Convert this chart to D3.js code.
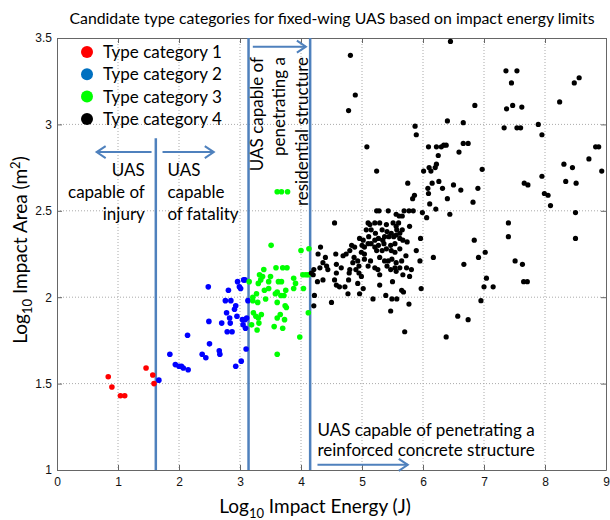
<!DOCTYPE html>
<html>
<head>
<meta charset="utf-8">
<script src="https://cdn.jsdelivr.net/npm/d3@7"></script>
<style>
  body { margin: 0; background: #fff; }
</style>
</head>
<body>
<div id="chart"></div>
<script>
'use strict';

// log10 impact energy (J), log10 impact area (m^2)
var type1 = [[0.84,1.54],[0.90,1.48],[1.04,1.43],[1.11,1.43],[1.46,1.59],[1.57,1.55],[1.59,1.50]];

var type2 = [[2.48,2.06],[2.81,2.04],[2.96,2.09],[2.99,2.06],[3.01,2.05],[3.06,2.10],[3.08,2.10],[2.76,1.98],
  [2.85,1.98],[3.13,1.98],[2.93,1.95],[2.91,1.93],[2.78,1.91],[2.95,1.89],[2.83,1.88],[2.49,1.86],[2.70,1.85],
  [2.84,1.85],[3.04,1.87],[3.08,1.87],[3.11,1.88],[3.05,1.84],[3.09,1.82],[2.79,1.80],[2.87,1.80],[2.14,1.78],
  [2.50,1.73],[3.10,1.70],[2.66,1.69],[2.67,1.67],[2.38,1.67],[2.44,1.65],[1.85,1.67],[3.02,1.63],[1.94,1.61],
  [2.00,1.60],[2.04,1.60],[2.07,1.59],[2.15,1.58],[2.93,1.60],[1.67,1.52]];

var type3 = [[3.61,2.61],[3.68,2.61],[3.78,2.61],[3.51,2.30],[4.00,2.27],[4.13,2.28],[3.39,2.16],[3.32,2.13],
  [3.37,2.12],[3.15,2.09],[3.30,2.08],[3.47,2.09],[3.50,2.12],[3.59,2.17],[3.70,2.17],[3.77,2.17],[3.63,2.09],
  [3.68,2.09],[3.88,2.11],[3.91,2.08],[3.75,2.04],[4.03,2.13],[4.08,2.13],[4.12,2.13],[4.04,2.05],[3.27,2.02],
  [3.40,2.04],[3.47,2.05],[3.58,2.02],[3.61,2.03],[3.67,2.01],[3.72,2.01],[3.21,2.00],[3.21,1.98],[3.29,1.97],
  [3.42,1.99],[3.61,1.97],[3.74,1.95],[3.76,1.94],[3.22,1.91],[3.26,1.89],[3.30,1.88],[3.35,1.90],[3.66,1.90],
  [3.61,1.88],[3.73,1.87],[3.31,1.85],[3.19,1.84],[3.28,1.81],[3.56,1.83],[3.70,1.82],[3.98,1.77],[4.12,1.91],
  [3.61,1.67],[3.88,2.05],[3.34,2.10]];

var type4 = [[6.45,3.48],[4.81,3.40],[4.89,3.17],[4.78,3.08],[7.36,3.31],[7.54,3.31],[7.45,3.24],[6.85,3.11],
  [7.37,3.09],[7.47,3.11],[7.62,3.10],[6.40,3.02],[6.66,3.01],[5.87,2.99],[5.89,2.94],[7.33,2.98],[7.54,2.98],
  [7.60,2.98],[7.89,3.00],[7.95,2.94],[8.24,3.13],[8.48,3.24],[8.56,3.27],
  [8.83,2.87],[8.88,2.87],[8.72,2.80],[8.31,2.77],[8.45,2.75],[8.93,2.73],[8.34,2.67],[8.51,2.66],[8.50,2.49],
  [8.50,2.34],[7.66,2.66],[7.72,2.65],[7.95,2.70],[7.99,2.60],[8.05,2.59],[8.09,2.53],[6.97,2.74],[6.90,2.63],
  [6.82,2.55],[6.62,2.62],[6.50,2.65],[6.40,2.57],[6.44,2.48],[6.32,2.63],[6.26,2.67],[6.15,2.66],[6.08,2.63],
  [6.09,2.60],[6.11,2.54],[6.21,2.51],[5.99,2.49],[6.06,2.46],[6.59,2.84],[6.09,2.87],[6.22,2.87],[6.30,2.87],
  [6.34,2.88],[6.38,2.88],[6.66,2.89],[6.74,2.89],[6.25,2.82],[6.22,2.77],[6.10,2.75],[6.20,2.75],[6.01,2.73],
  [6.13,2.73],[5.08,2.87],[5.24,2.73],[5.75,2.66],[5.83,2.57],[5.86,2.59],[4.55,2.43],
  [7.40,2.43],[7.40,2.35],[6.84,2.33],[7.02,2.26],[6.91,2.23],[6.67,2.19],[6.17,2.23],[7.51,2.21],[7.63,2.19],
  [7.04,2.11],[7.00,2.06],[7.15,2.06],[7.65,2.09],[7.71,2.09],[6.95,1.98],[6.57,1.89],[6.74,1.87],[6.38,1.77],
  [5.96,2.34],[5.95,2.21],[5.97,2.05],[5.89,2.27],[5.65,2.04],[5.68,2.03],[5.39,2.01],[5.49,1.99],[5.57,1.99],
  [5.47,1.92],[5.77,1.96],[5.70,1.80],
  [5.24,2.50],[5.28,2.50],[5.43,2.50],[5.69,2.50],[5.77,2.50],[5.84,2.50],[5.56,2.48],[5.61,2.47],[5.66,2.47],
  [5.10,2.43],[5.13,2.42],[5.21,2.43],[5.29,2.43],[5.40,2.42],[5.51,2.43],[5.56,2.41],[5.60,2.43],
  [5.07,2.39],[5.15,2.39],[5.22,2.37],[5.33,2.39],[5.41,2.38],[5.48,2.37],[5.57,2.39],[5.62,2.37],[5.66,2.39],
  [5.78,2.41],[4.96,2.34],[5.02,2.33],[5.11,2.35],[5.21,2.33],[5.27,2.34],[5.34,2.33],[5.37,2.35],[5.44,2.35],
  [5.52,2.35],[5.56,2.36],[5.62,2.34],[5.67,2.33],
  [4.83,2.30],[4.88,2.29],[5.00,2.30],[5.04,2.29],[5.10,2.31],[5.15,2.31],[5.21,2.29],[5.27,2.30],[5.36,2.31],
  [5.47,2.30],[5.54,2.31],[5.74,2.32],[5.62,2.28],
  [4.32,2.29],[4.28,2.25],[4.80,2.27],[4.74,2.25],[4.99,2.26],[5.04,2.25],[5.24,2.27],[5.33,2.27],[5.40,2.28],
  [5.48,2.27],[5.54,2.26],[5.72,2.24],
  [4.40,2.23],[4.36,2.20],[4.42,2.18],[4.57,2.25],[4.69,2.24],[4.87,2.23],[4.93,2.21],[4.85,2.20],[5.04,2.22],
  [5.14,2.21],[5.29,2.23],[5.37,2.21],[5.43,2.21],[5.49,2.22],[5.56,2.20],[5.65,2.21],
  [4.31,2.17],[4.44,2.16],[4.21,2.16],[4.17,2.14],[4.20,2.13],[4.58,2.19],[4.66,2.17],[4.80,2.16],[4.90,2.16],
  [4.95,2.18],[5.10,2.18],[5.21,2.17],[5.26,2.16],[5.41,2.18],[5.47,2.16],[5.54,2.17],[5.62,2.17],[5.73,2.17],
  [5.81,2.16],[4.58,2.14],[4.79,2.14],[4.95,2.14],[5.29,2.13],[5.56,2.15],[5.67,2.13],[5.78,2.12],
  [4.27,2.09],[4.36,2.10],[4.55,2.10],[4.78,2.10],[4.99,2.12],[5.50,2.09],
  [4.58,2.07],[4.63,2.06],[4.72,2.06],[4.93,2.08],[5.02,2.05],[5.29,2.07],
  [4.22,2.01],[4.77,2.02],[4.96,2.02],[5.18,1.99],[4.21,1.95],[4.50,1.97]];

var categories = ['Type category 1', 'Type category 2', 'Type category 3', 'Type category 4'];
var xTicks = [0, 1, 2, 3, 4, 5, 6, 7, 8, 9];
var yTicks = [1, 1.5, 2, 2.5, 3, 3.5];

// energy limits (log10 J) and where each limit line starts (log10 m^2)
var limits = [1.62, 3.14, 4.15];
var limitTops = [2.92, 3.5, 3.5];

var margin = {top: 38, right: 4, bottom: 50, left: 57},
    width = 610 - margin.left - margin.right,
    height = 520 - margin.top - margin.bottom;

var x = d3.scaleLinear().domain([0, 9]).range([0, width]);
var y = d3.scaleLinear().domain([1, 3.5]).range([height, 0]);

var lineBlue = '#4f81bd';
var calibri = 'Lato, "Open Sans", sans-serif';

var svg = d3.select('#chart')
    .append('svg')
    .attr('width', 610)
    .attr('height', 520);

var vis = svg.append('g')
    .attr('transform', 'translate(' + margin.left + ',' + margin.top + ')');

// dotted grid
vis.append('g').selectAll('line.gx')
    .data(xTicks.slice(1, -1))
    .enter().append('line')
    .attr('x1', function(d) { return x(d); })
    .attr('x2', function(d) { return x(d); })
    .attr('y1', 0).attr('y2', height)
    .attr('stroke', '#aaa').attr('stroke-dasharray', '1,2');
vis.append('g').selectAll('line.gy')
    .data(yTicks.slice(1, -1))
    .enter().append('line')
    .attr('y1', function(d) { return y(d); })
    .attr('y2', function(d) { return y(d); })
    .attr('x1', 0).attr('x2', width)
    .attr('stroke', '#aaa').attr('stroke-dasharray', '1,2');

// axes, ticks pointing inwards on all four sides
function styleAxis(g) {
    g.select('.domain').attr('stroke', '#666');
    g.selectAll('.tick line').attr('stroke', '#666');
    g.selectAll('.tick text')
        .attr('fill', '#111')
        .style('font-family', '"Liberation Sans", Arial, sans-serif')
        .style('font-size', '12px');
}
var fmt = d3.format('~g');
vis.append('g')
    .attr('transform', 'translate(0,' + height + ')')
    .call(d3.axisBottom(x).tickValues(xTicks).tickFormat(fmt).tickSize(-5).tickSizeOuter(0).tickPadding(7))
    .call(styleAxis);
vis.append('g')
    .call(d3.axisLeft(y).tickValues(yTicks).tickFormat(fmt).tickSize(-5).tickSizeOuter(0).tickPadding(5))
    .call(styleAxis);
vis.append('g')
    .call(d3.axisTop(x).tickValues(xTicks).tickSize(-5).tickSizeOuter(0).tickFormat(''))
    .call(styleAxis);
vis.append('g')
    .attr('transform', 'translate(' + width + ',0)')
    .call(d3.axisRight(y).tickValues(yTicks).tickSize(-5).tickSizeOuter(0).tickFormat(''))
    .call(styleAxis);

// energy limit lines
vis.append('g').selectAll('line')
    .data(limits)
    .enter().append('line')
    .attr('x1', function(d) { return x(d); })
    .attr('x2', function(d) { return x(d); })
    .attr('y1', function(d, i) { return y(limitTops[i]); })
    .attr('y2', height)
    .attr('stroke', lineBlue)
    .attr('stroke-width', 2.5);

// data points
var series = [
    {pts: type2, color: '#0000ff', r: 2.8},
    {pts: type3, color: '#00ff00', r: 2.8},
    {pts: type4, color: '#000000', r: 2.6},
    {pts: type1, color: '#ff0000', r: 2.8}
];
series.forEach(function(s) {
    vis.append('g').selectAll('circle')
        .data(s.pts)
        .enter().append('circle')
        .attr('cx', function(d) { return x(d[0]); })
        .attr('cy', function(d) { return y(d[1]); })
        .attr('r', s.r)
        .attr('fill', s.color);
});

// arrows (data units)
var arrows = [
    {x1: 1.55, x2: 0.65, y: 2.84},
    {x1: 1.73, x2: 2.57, y: 2.84},
    {x1: 3.21, x2: 4.08, y: 3.45},
    {x1: 4.27, x2: 5.75, y: 1.03}
];
arrows.forEach(function(a) {
    var px1 = x(a.x1), px2 = x(a.x2), py = y(a.y);
    var dir = px2 > px1 ? 1 : -1;
    vis.append('line')
        .attr('x1', px1).attr('x2', px2)
        .attr('y1', py).attr('y2', py)
        .attr('stroke', lineBlue).attr('stroke-width', 2);
    vis.append('path')
        .attr('d', 'M' + (px2 - dir * 9) + ',' + (py - 6) + 'L' + px2 + ',' + py + 'L' + (px2 - dir * 9) + ',' + (py + 6))
        .attr('fill', 'none')
        .attr('stroke', lineBlue)
        .attr('stroke-width', 2);
});

// annotation text
function multiline(g, lines, lh) {
    g.selectAll('tspan')
        .data(lines)
        .enter().append('tspan')
        .attr('x', 0)
        .attr('dy', function(d, i) { return i === 0 ? 0 : lh; })
        .text(function(d) { return d; });
}
var note = function(xv, yv, anchor) {
    return vis.append('text')
        .attr('transform', 'translate(' + x(xv) + ',' + y(yv) + ')')
        .attr('text-anchor', anchor)
        .style('font-family', calibri)
        .style('font-size', '17px')
        .attr('fill', '#000');
};
multiline(note(1.44, 2.70, 'end'), ['UAS', 'capable of', 'injury'], 22);
multiline(note(1.81, 2.70, 'start'), ['UAS', 'capable', 'of fatality'], 22);
multiline(note(4.27, 1.195, 'start'), ['UAS capable of penetrating a', 'reinforced concrete structure'], 20);

var rot = vis.append('text')
    .attr('transform', 'translate(' + x(3.37) + ',' + y(3.39) + ') rotate(-90)')
    .attr('text-anchor', 'end')
    .style('font-family', calibri)
    .style('font-size', '17px');
rot.selectAll('tspan')
    .data(['UAS capable of', 'penetrating a', 'residential structure'])
    .enter().append('tspan')
    .attr('x', 0)
    .attr('y', function(d, i) { return i * 22.5; })
    .text(function(d) { return d; });

// legend
var legend = vis.append('g').attr('transform', 'translate(30,14)');
var legendColors = ['#ff0000', '#0070c0', '#00ff00', '#000000'];
var item = legend.selectAll('g')
    .data(categories)
    .enter().append('g')
    .attr('transform', function(d, i) { return 'translate(0,' + (i * 22.3) + ')'; });
item.append('circle')
    .attr('r', 6)
    .attr('fill', function(d, i) { return legendColors[i]; });
item.append('text')
    .attr('x', 16)
    .attr('dy', '0.35em')
    .style('font-family', calibri)
    .style('font-size', '17px')
    .text(function(d) { return d; });

// title and axis labels
svg.append('text')
    .attr('x', 332).attr('y', 24)
    .attr('text-anchor', 'middle')
    .style('font-family', calibri)
    .style('font-size', '15.8px')
    .text('Candidate type categories for fixed-wing UAS based on impact energy limits');

var xl = svg.append('text')
    .attr('x', 315).attr('y', 513)
    .attr('text-anchor', 'middle')
    .style('font-family', calibri)
    .style('font-size', '19px');
xl.append('tspan').text('Log');
xl.append('tspan').attr('dy', 5).style('font-size', '13px').text('10');
xl.append('tspan').attr('dy', -5).text(' Impact Energy (J)');

var yl = svg.append('text')
    .attr('transform', 'translate(27,250) rotate(-90)')
    .attr('text-anchor', 'middle')
    .style('font-family', calibri)
    .style('font-size', '19px');
yl.append('tspan').text('Log');
yl.append('tspan').attr('dy', 5).style('font-size', '13px').text('10');
yl.append('tspan').attr('dy', -5).text(' Impact Area (m');
yl.append('tspan').attr('dy', -7).style('font-size', '13px').text('2');
yl.append('tspan').attr('dy', 7).text(')');
</script>
</body>
</html>
